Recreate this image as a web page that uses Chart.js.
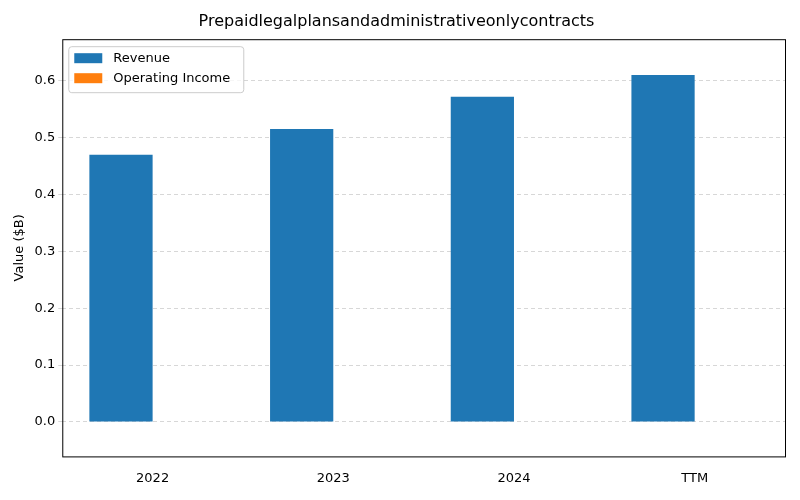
<!DOCTYPE html>
<html><head><meta charset="utf-8">
<script src="https://cdn.jsdelivr.net/npm/chart.js@4"></script>
<style>html,body{margin:0;padding:0;background:#fff}#w{width:800px;height:500px}</style>
</head><body><div id="w"><canvas id="c"></canvas></div>
<script>
const categories = ["2022", "2023", "2024", "TTM"];
const revenue = [0.470, 0.515, 0.572, 0.610];
const operatingIncome = [0, 0, 0, 0];
const yTicks = [0.0, 0.1, 0.2, 0.3, 0.4, 0.5, 0.6];

const frame = {
  id: 'frame',
  afterDraw(chart) {
    const a = chart.chartArea, ctx = chart.ctx;
    ctx.save(); ctx.strokeStyle = '#000'; ctx.lineWidth = 1;
    ctx.strokeRect(a.left + 0.5, a.top + 0.5, a.right - a.left, a.bottom - a.top);
    ctx.restore();
  }
};
Chart.defaults.font.family = "'DejaVu Sans', sans-serif";
Chart.defaults.color = '#000';
new Chart(document.getElementById('c'), {
  type: 'bar',
  data: {
    labels: categories,
    datasets: [
      { label: 'Revenue', data: revenue, backgroundColor: '#1f77b4', categoryPercentage: 0.7, barPercentage: 1 },
      { label: 'Operating Income', data: operatingIncome, backgroundColor: '#ff7f0e', categoryPercentage: 0.7, barPercentage: 1 }
    ]
  },
  options: {
    responsive: true, maintainAspectRatio: false, animation: false,
    layout: { padding: { left: 8, right: 15, top: 8, bottom: 8 } },
    plugins: {
      title: { display: true, text: 'Prepaidlegalplansandadministrativeonlycontracts', font: { size: 16, weight: 'normal' }, padding: { top: 4, bottom: 8 } },
      legend: { display: false }
    },
    scales: {
      x: {
        grid: { display: false },
        border: { display: false },
        ticks: { font: { size: 13 }, padding: 6 }
      },
      y: {
        min: -0.0605, max: 0.673,
        afterBuildTicks: (s) => { s.ticks = yTicks.map(v => ({ value: v })); },
        grid: { color: 'rgba(176,176,176,0.5)', borderDash: [4, 3], drawTicks: true, tickLength: 4 },
        border: { display: false, dash: [4, 3] },
        ticks: { font: { size: 13 }, callback: v => v.toFixed(1) },
        title: { display: true, text: 'Value ($B)', font: { size: 13 } }
      }
    }
  },
  plugins: [frame, {
    id: 'leg',
    afterDraw(chart) {
      const a = chart.chartArea, ctx = chart.ctx;
      const x = a.left + 6, y = a.top + 7;
      ctx.save();
      ctx.fillStyle = 'rgba(255,255,255,0.8)'; ctx.strokeStyle = '#ccc'; ctx.lineWidth = 1;
      ctx.beginPath(); ctx.roundRect(x + 0.5, y + 0.5, 175, 46, 3); ctx.fill(); ctx.stroke();
      const ds = chart.data.datasets;
      ctx.font = "13px 'DejaVu Sans', sans-serif"; ctx.textBaseline = 'middle'; ctx.fillStyle = '#000';
      ds.forEach((d, i) => {
        const cy = y + 12 + i * 20;
        ctx.fillStyle = d.backgroundColor; ctx.fillRect(x + 6, cy - 5, 28, 10);
        ctx.fillStyle = '#000'; ctx.fillText(d.label, x + 45, cy);
      });
      ctx.restore();
    }
  }]
});
</script></body></html>
